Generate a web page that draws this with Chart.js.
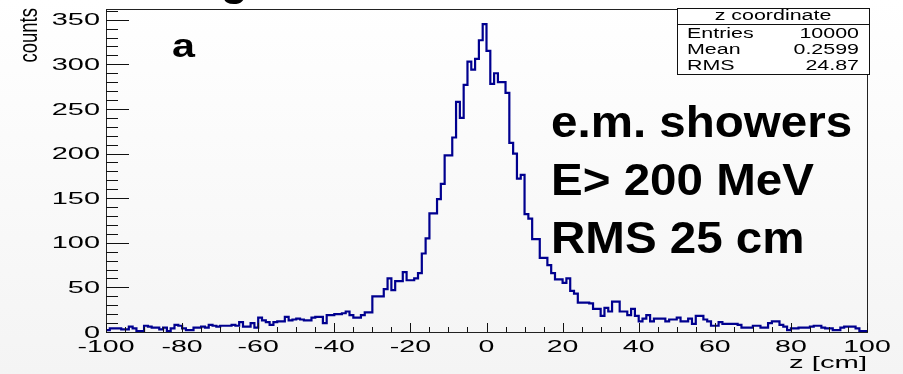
<!DOCTYPE html>
<html lang="en">
  <head>
    <meta charset="UTF-8" />
    <script src="https://cdn.jsdelivr.net/npm/chart.js"></script>
    <title>z coordinate</title>
    <style>
      html, body { margin: 0; padding: 0; background: #fafafa; }
      canvas { display: block; }
    </style>
  </head>
  <body>
    <canvas id="hist" width="903" height="374"></canvas>

    <script>
      // histogram range, 1 cm bins
      const zMin = -100
      const zMax = 100
      const yMax = 362

      // counts per bin, from z = -100 up to z = 99
      const counts = [
        2, 2, 4, 4, 4, 3, 3, 6, 4, 1,
        1, 7, 6, 5, 5, 3, 5, 1, 4, 8,
        7, 4, 2, 2, 5, 5, 6, 5, 8, 7,
        6, 7, 7, 7, 8, 7, 11, 6, 6, 10,
        5, 16, 13, 11, 8, 11, 12, 12, 17, 13,
        14, 15, 14, 13, 13, 16, 17, 17, 10, 19,
        19, 20, 20, 21, 23, 19, 16, 16, 19, 22,
        22, 40, 40, 40, 48, 60, 47, 57, 57, 67,
        58, 58, 60, 66, 88, 105, 133, 133, 149, 166,
        198, 198, 218, 258, 240, 277, 303, 294, 306, 327,
        345, 315, 278, 290, 280, 280, 268, 212, 200, 172,
        176, 132, 127, 104, 104, 83, 83, 75, 66, 59,
        59, 55, 60, 46, 43, 33, 33, 33, 32, 26,
        26, 18, 27, 23, 34, 34, 23, 23, 19, 26,
        18, 12, 15, 19, 12, 15, 15, 15, 12, 14,
        14, 16, 12, 12, 15, 9, 18, 18, 14, 12,
        7, 7, 11, 9, 9, 9, 9, 8, 5, 5,
        5, 7, 7, 5, 5, 10, 12, 12, 8, 6,
        2, 4, 4, 5, 5, 5, 6, 7, 7, 5,
        4, 4, 2, 2, 5, 6, 6, 6, 4, 1,
      ]

      const xTicks = [-100, -80, -60, -40, -20, 0, 20, 40, 60, 80, 100]
      const xTickLabels = ['-100', '-80', '-60', '-40', '-20', '0', '20', '40', '60', '80', '100']
      const xMinorStep = 5
      const yTicks = [0, 50, 100, 150, 200, 250, 300, 350]
      const yTickLabels = ['0', '50', '100', '150', '200', '250', '300', '350']
      const yMinorStep = 10

      const xTitle = 'z [cm]'
      const yTitle = 'counts'
      const statsTitle = 'z coordinate'
      const statsNames = ['Entries', 'Mean', 'RMS']
      const statsValues = ['10000', '0.2599', '24.87']
      const noteLines = ['e.m. showers', 'E> 200 MeV', 'RMS 25 cm']
      const panelLabel = 'a'

      const binWidth = (zMax - zMin) / counts.length
      const points = counts.map((c, i) => ({ x: zMin + i * binWidth, y: c }))
      points.push({ x: zMax, y: counts[counts.length - 1] })

      const FONT = '"Liberation Sans", Arial, Helvetica, sans-serif'

      // text stretched horizontally like the original picture
      const wideText = (ctx, text, x, y, sx, align) => {
        ctx.save()
        ctx.translate(x, y)
        ctx.scale(sx, 1)
        ctx.textAlign = align
        ctx.fillText(text, 0, 0)
        ctx.restore()
      }

      const rootFrame = {
        id: 'rootFrame',
        beforeDraw(chart) {
          const ctx = chart.ctx
          const g = ctx.createLinearGradient(0, 0, 0, chart.height)
          g.addColorStop(0, '#ffffff')
          g.addColorStop(1, '#f4f4f4')
          ctx.save()
          ctx.fillStyle = g
          ctx.fillRect(0, 0, chart.width, chart.height)
          ctx.restore()
        },
        afterDraw(chart) {
          const ctx = chart.ctx
          const a = chart.chartArea
          const xs = chart.scales.x
          const ys = chart.scales.y
          ctx.save()

          // frame
          ctx.strokeStyle = '#222'
          ctx.lineWidth = 1
          ctx.strokeRect(Math.round(a.left) + 0.5, Math.round(a.top) + 0.5,
            Math.round(a.right - a.left), Math.round(a.bottom - a.top))

          // x ticks (inward)
          ctx.strokeStyle = '#111'
          ctx.beginPath()
          for (let v = zMin; v <= zMax; v += xMinorStep) {
            const px = Math.round(xs.getPixelForValue(v)) + 0.5
            const len = xTicks.includes(v) ? 9 : 5
            ctx.moveTo(px, a.bottom)
            ctx.lineTo(px, a.bottom - len)
          }
          // y ticks (inward)
          for (let v = 0; v <= yMax; v += yMinorStep) {
            const py = Math.round(ys.getPixelForValue(v)) + 0.5
            const len = yTicks.includes(v) ? 23 : 12
            ctx.moveTo(a.left, py)
            ctx.lineTo(a.left + len, py)
          }
          ctx.stroke()

          // tick labels
          ctx.fillStyle = '#000'
          ctx.font = '16px ' + FONT
          ctx.textBaseline = 'alphabetic'
          xTicks.forEach((v, i) => {
            wideText(ctx, xTickLabels[i], xs.getPixelForValue(v), a.bottom + 20, 1.78, 'center')
          })
          ctx.textBaseline = 'middle'
          ctx.font = '17px ' + FONT
          yTicks.forEach((v, i) => {
            wideText(ctx, yTickLabels[i], a.left - 6, ys.getPixelForValue(v) + 1, 1.7, 'right')
          })

          // axis titles
          ctx.textBaseline = 'alphabetic'
          ctx.font = '16.5px ' + FONT
          wideText(ctx, xTitle, a.right, a.bottom + 36, 1.77, 'right')

          ctx.save()
          ctx.translate(37, a.top - 1)
          ctx.rotate(-Math.PI / 2)
          ctx.scale(1, 1.4)
          ctx.font = '18.5px ' + FONT
          ctx.textAlign = 'right'
          ctx.textBaseline = 'alphabetic'
          ctx.fillText(yTitle, 0, 0)
          ctx.restore()

          // stats box
          const bx = a.right - 190
          const by = a.top - 1
          const bw = 192
          const bh = 66
          ctx.fillStyle = '#ffffff'
          ctx.fillRect(bx, by, bw, bh)
          ctx.strokeStyle = '#111'
          ctx.strokeRect(bx + 0.5, by + 0.5, bw, bh)
          ctx.beginPath()
          ctx.moveTo(bx, by + 16.5)
          ctx.lineTo(bx + bw, by + 16.5)
          ctx.stroke()
          ctx.fillStyle = '#000'
          ctx.font = '14px ' + FONT
          wideText(ctx, statsTitle, bx + bw / 2, by + 12, 1.53, 'center')
          statsNames.forEach((name, i) => {
            const y = by + 30 + i * 16
            wideText(ctx, name, bx + 10, y, 1.53, 'left')
            wideText(ctx, statsValues[i], bx + bw - 10, y, 1.53, 'right')
          })

          // panel label and note
          ctx.font = 'bold 33px ' + FONT
          wideText(ctx, panelLabel, a.left + 66, a.top + 48, 1.25, 'left')
          ctx.font = 'bold 44px ' + FONT
          noteLines.forEach((line, i) => {
            wideText(ctx, line, 551, 137 + i * 58, 1.08, 'left')
          })
          // cut-off title letter at the top edge
          wideText(ctx, 'g', 221, -5, 1.0, 'left')

          ctx.restore()
        },
      }

      const ctx = document.getElementById('hist').getContext('2d')
      new Chart(ctx, {
        type: 'line',
        data: {
          datasets: [
            {
              label: statsTitle,
              data: points,
              stepped: 'after',
              borderColor: '#00008f',
              borderWidth: 2.2,
              borderJoinStyle: 'miter',
              pointRadius: 0,
              fill: false,
            },
          ],
        },
        options: {
          responsive: false,
          animation: false,
          layout: {
            padding: { left: 106, right: 36, top: 9, bottom: 42 },
          },
          plugins: {
            legend: { display: false },
            tooltip: { enabled: false },
          },
          scales: {
            x: { type: 'linear', min: zMin, max: zMax, display: false },
            y: { type: 'linear', min: 0, max: yMax, display: false },
          },
        },
        plugins: [rootFrame],
      })
    </script>
  </body>
</html>
